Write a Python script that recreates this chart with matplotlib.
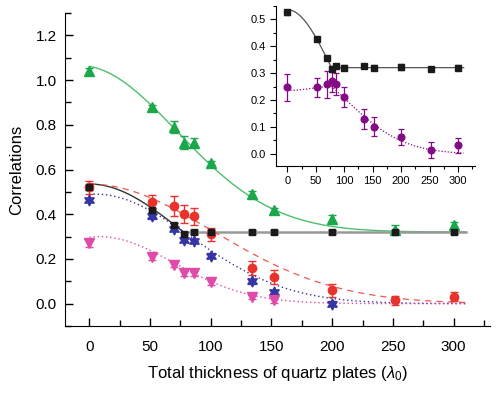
import numpy as np
import matplotlib
matplotlib.use("Agg")
import matplotlib.pyplot as plt
from matplotlib.ticker import MultipleLocator

plt.rcParams['font.family'] = ['Liberation Sans', 'DejaVu Sans']
plt.rcParams['mathtext.fontset'] = 'custom'
plt.rcParams['mathtext.rm'] = 'Liberation Sans'
plt.rcParams['mathtext.it'] = 'Liberation Sans:italic'

# ---- data ----
thick = [0, 52, 70, 78, 86, 100, 134, 152, 200, 252, 300]

green_y = [1.04, 0.88, 0.79, 0.72, 0.72, 0.63, 0.49, 0.42, 0.38, 0.33, 0.35]
green_e = [0.015, 0.01, 0.025, 0.03, 0.02, 0.01, 0.015, 0.01, 0.015, 0.02, 0.015]

black_y = [0.52, 0.42, 0.35, 0.31, 0.32, 0.32, 0.32, 0.32, 0.32, 0.32, 0.32]
black_e = [0.012, 0.01, 0.01, 0.01, 0.008, 0.01, 0.008, 0.008, 0.01, 0.01, 0.01]

red_y = [0.52, 0.455, 0.435, 0.40, 0.39, 0.31, 0.16, 0.12, 0.06, 0.015, 0.03]
red_e = [0.03, 0.03, 0.045, 0.04, 0.04, 0.03, 0.03, 0.03, 0.03, 0.02, 0.02]

blue_x = [0, 52, 70, 78, 86, 100, 134, 152, 200]
blue_y = [0.463, 0.39, 0.335, 0.285, 0.28, 0.215, 0.10, 0.05, 0.0]
blue_e = [0.01, 0.01, 0.01, 0.01, 0.01, 0.01, 0.01, 0.01, 0.01]

pink_x = [0, 52, 70, 78, 86, 100, 134, 152]
pink_y = [0.27, 0.21, 0.175, 0.135, 0.135, 0.095, 0.03, 0.015]
pink_e = [0.015, 0.015, 0.01, 0.01, 0.01, 0.01, 0.01, 0.01]

inset_black_y = [0.525, 0.425, 0.355, 0.315, 0.325, 0.32, 0.325, 0.32, 0.322, 0.315, 0.32]
inset_black_e = [0.008, 0.005, 0.008, 0.01, 0.008, 0.008, 0.008, 0.008, 0.01, 0.008, 0.008]
purple_y = [0.247, 0.247, 0.259, 0.27, 0.26, 0.21, 0.13, 0.10, 0.062, 0.015, 0.032]
purple_e = [0.05, 0.036, 0.05, 0.04, 0.04, 0.037, 0.037, 0.035, 0.03, 0.03, 0.028]

# fitted-curve parameters (Gaussian fits as drawn in the figure)
green_fit = dict(base=0.32, amp=0.745, center=-8, sigma=80)
black_fit = dict(base=0.32, amp=0.535, sigma=76.7)
red_fit = dict(amp=0.535, sigma=101.7)
blue_fit = dict(amp=0.49, center=5, sigma=79)
pink_fit = dict(amp=0.30, center=8, sigma=62)
purple_fit = dict(k=0.627, c=0.465)

xs = np.linspace(0, 310, 400)

def gauss(x, amp, center, sigma):
    return amp * np.exp(-(x - center) ** 2 / (2 * sigma ** 2))

green_curve = green_fit['base'] + gauss(xs, green_fit['amp'], green_fit['center'], green_fit['sigma'])
black_raw = gauss(xs, black_fit['amp'], 0, black_fit['sigma'])
black_curve = np.maximum(black_fit['base'], black_raw)
red_curve = gauss(xs, red_fit['amp'], 0, red_fit['sigma'])
blue_curve = gauss(xs, blue_fit['amp'], blue_fit['center'], blue_fit['sigma'])
pink_curve = gauss(xs, pink_fit['amp'], pink_fit['center'], pink_fit['sigma'])
purple_curve = purple_fit['k'] * red_curve - purple_fit['c'] * (black_curve - black_fit['base'])

# colours
C_GREEN = '#1aa84a'
C_GREEN_L = '#4cc06a'
C_RED = '#e8322b'
C_BLUE = '#3535a5'
C_PINK = '#e04aa8'
C_PURPLE = '#850a85'
C_BLACK = '#1a1a1a'

fig = plt.figure(figsize=(4.99, 3.93), dpi=100)
ax = fig.add_axes([0.1303, 0.1705, 0.8517, 0.7964])

# curves
ax.plot(xs, green_curve, color=C_GREEN_L, lw=1.0, zorder=2)
curve_mask = black_raw >= black_fit['base']
ax.plot(xs[curve_mask], black_curve[curve_mask], color='#333333', lw=1.0, zorder=2)
ax.plot(xs[~curve_mask], black_curve[~curve_mask], color='#999999', lw=1.8, zorder=2)
ax.plot(xs, red_curve, color='#ee5a50', lw=0.9, ls=(0, (5, 4)), zorder=2)
ax.plot(xs, blue_curve, color=C_BLUE, lw=1.0, ls=(0, (1, 2)), zorder=2)
ax.plot(xs, pink_curve, color=C_PINK, lw=1.0, ls=(0, (1, 2)), zorder=2)

ek = dict(capsize=3, elinewidth=1.0, capthick=1.0, ls='none', zorder=3)
ax.errorbar(thick, green_y, yerr=green_e, fmt='^', color=C_GREEN, ms=7, **ek)
ax.errorbar(thick, red_y, yerr=red_e, fmt='o', color=C_RED, ms=6, **ek)
ax.errorbar(thick, black_y, yerr=black_e, fmt='s', color=C_BLACK, ms=4.8, **ek)
ax.errorbar(blue_x, blue_y, yerr=blue_e, fmt='none', ecolor=C_BLUE, **{k: v for k, v in ek.items() if k != 'ls'})
ax.plot(blue_x, blue_y, ls='none', marker=(6, 1, 0), color=C_BLUE, ms=8, zorder=3)
ax.errorbar(pink_x, pink_y, yerr=pink_e, fmt='v', color=C_PINK, ms=7.5, **ek)

ax.set_xlim(-20, 330)
ax.set_ylim(-0.1, 1.3)
ax.xaxis.set_major_locator(MultipleLocator(50))
ax.xaxis.set_minor_locator(MultipleLocator(25))
ax.yaxis.set_major_locator(MultipleLocator(0.2))
ax.yaxis.set_minor_locator(MultipleLocator(0.1))
ax.set_yticks([0.0, 0.2, 0.4, 0.6, 0.8, 1.0, 1.2])
ax.set_yticklabels(['0.0', '0.2', '0.4', '0.6', '0.8', '1.0', '1.2'])
ax.spines['top'].set_visible(False)
ax.spines['right'].set_visible(False)
ax.tick_params(which='both', direction='in', labelsize=11, width=1)
ax.tick_params(which='major', length=6)
ax.tick_params(which='minor', length=4)
ax.tick_params(axis='x', pad=10)
ax.tick_params(axis='y', pad=6)
ax.set_xlabel(r'Total thickness of quartz plates ($\lambda_{\mathrm{0}}$)', fontsize=12, labelpad=7)
ax.set_ylabel('Correlations', fontsize=12, labelpad=8)

# inset
ins = fig.add_axes([0.553, 0.5776, 0.399, 0.408])
ins.patch.set_alpha(0)
ins.plot(xs, purple_curve, color=C_PURPLE, lw=0.9, ls=(0, (1, 1.5)), zorder=2)
ins.plot(xs, black_curve, color='#555555', lw=0.9, zorder=2)
ek2 = dict(capsize=2.5, elinewidth=0.9, capthick=0.9, ls='none', zorder=3)
ins.errorbar(thick, inset_black_y, yerr=inset_black_e, fmt='s', color=C_BLACK, ms=4.8, **ek2)
ins.errorbar(thick, purple_y, yerr=purple_e, fmt='o', color=C_PURPLE, ms=4.8, **ek2)
ins.set_xlim(-20, 330)
ins.set_ylim(-0.045, 0.55)
ins.xaxis.set_major_locator(MultipleLocator(50))
ins.xaxis.set_minor_locator(MultipleLocator(25))
ins.yaxis.set_major_locator(MultipleLocator(0.1))
ins.yaxis.set_minor_locator(MultipleLocator(0.05))
ins.set_xticks([0, 50, 100, 150, 200, 250, 300])
ins.set_yticks([0.0, 0.1, 0.2, 0.3, 0.4, 0.5])
ins.set_yticklabels(['0.0', '0.1', '0.2', '0.3', '0.4', '0.5'])
ins.spines['top'].set_visible(False)
ins.spines['right'].set_visible(False)
ins.tick_params(which='both', direction='out', labelsize=8, width=0.8)
ins.tick_params(which='major', length=4)
ins.tick_params(which='minor', length=2.5)

fig.savefig('out.png', dpi=100)
